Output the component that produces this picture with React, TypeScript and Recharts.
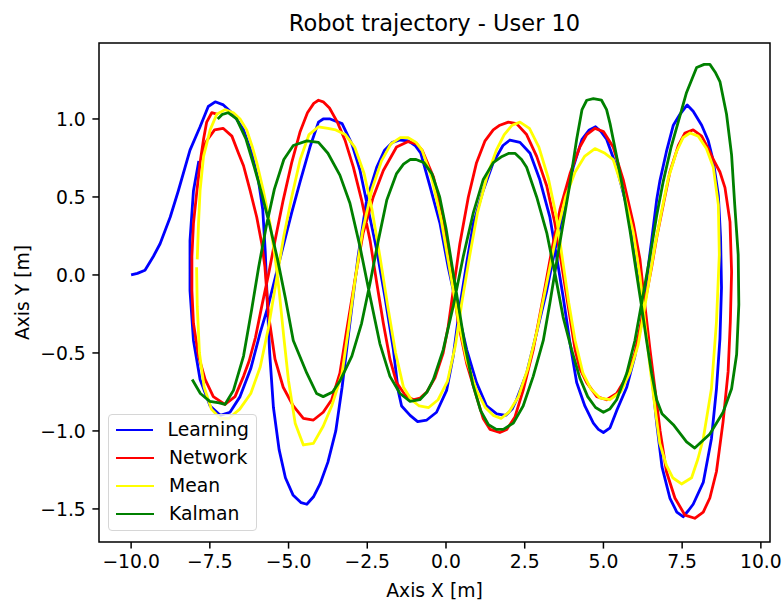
import { ScatterChart, Scatter, XAxis, YAxis, ReferenceArea, Legend } from "recharts";

// Trajectory samples as [x, y] in metres, in the order the robot travelled them
const learningPath: [number, number][] = [
  [-10.0, 0.0], [-9.8, 0.01], [-9.56, 0.03], [-9.29, 0.12], [-9.08, 0.2], [-8.76, 0.37], [-8.5, 0.54],
  [-8.13, 0.8], [-7.81, 0.95], [-7.55, 1.08], [-7.33, 1.11], [-7.07, 1.09], [-6.75, 1.03], [-6.43, 0.93],
  [-6.17, 0.78], [-5.96, 0.61], [-5.82, 0.42], [-5.74, 0.15], [-5.68, -0.15], [-5.6, -0.5], [-5.48, -0.85],
  [-5.3, -1.12], [-5.1, -1.3], [-4.86, -1.41], [-4.6, -1.46], [-4.42, -1.47], [-4.2, -1.42], [-4.0, -1.34],
  [-3.75, -1.2], [-3.5, -1.0], [-3.3, -0.72], [-3.12, -0.42], [-2.95, -0.14], [-2.79, 0.12], [-2.52, 0.48],
  [-2.2, 0.69], [-1.95, 0.8], [-1.7, 0.85], [-1.46, 0.865], [-1.2, 0.86], [-0.98, 0.83], [-0.8, 0.78],
  [-0.51, 0.57], [-0.19, 0.33], [0.07, 0.05], [0.34, -0.2], [0.66, -0.48], [0.97, -0.69], [1.29, -0.84],
  [1.61, -0.89], [1.9, -0.9], [2.1, -0.86], [2.24, -0.8], [2.56, -0.63], [2.88, -0.37], [3.2, -0.1],
  [3.46, 0.16], [3.78, 0.46], [4.04, 0.69], [4.32, 0.87], [4.55, 0.93], [4.75, 0.95], [4.92, 0.92],
  [5.1, 0.87], [5.42, 0.69], [5.74, 0.44], [6.0, 0.16], [6.21, -0.1], [6.37, -0.35], [6.53, -0.63],
  [6.69, -0.95], [6.86, -1.23], [7.11, -1.43], [7.33, -1.52], [7.53, -1.55], [7.7, -1.51], [7.85, -1.47],
  [8.17, -1.33], [8.43, -1.05], [8.59, -0.73], [8.7, -0.41], [8.75, -0.08], [8.72, 0.24], [8.65, 0.51],
  [8.49, 0.73], [8.33, 0.86], [8.12, 0.96], [7.85, 1.05], [7.66, 1.09], [7.43, 1.03], [7.22, 0.96],
  [7.0, 0.79], [6.79, 0.6], [6.69, 0.48], [6.53, 0.22], [6.37, -0.03], [6.21, -0.31], [6.0, -0.52],
  [5.74, -0.72], [5.42, -0.87], [5.21, -0.98], [5.0, -1.01], [4.84, -0.99], [4.68, -0.95], [4.41, -0.84],
  [4.15, -0.69], [3.94, -0.44], [3.72, -0.14], [3.51, 0.12], [3.3, 0.37], [2.98, 0.61], [2.67, 0.78],
  [2.35, 0.85], [2.03, 0.865], [1.81, 0.83], [1.5, 0.72], [1.18, 0.54], [0.87, 0.33], [0.66, 0.08],
  [0.44, -0.2], [0.23, -0.52], [0.02, -0.74], [-0.3, -0.88], [-0.61, -0.93], [-0.9, -0.94], [-1.14, -0.9],
  [-1.41, -0.84], [-1.52, -0.74], [-1.67, -0.48], [-1.94, -0.14], [-2.2, 0.16], [-2.47, 0.42], [-2.73, 0.67],
  [-2.99, 0.84], [-3.3, 0.97], [-3.68, 1.0], [-3.9, 1.0], [-4.05, 0.98], [-4.32, 0.82], [-4.63, 0.6],
  [-4.9, 0.4], [-5.15, 0.2], [-5.4, 0.0], [-5.65, -0.2], [-5.9, -0.37], [-6.2, -0.6], [-6.54, -0.78],
  [-6.86, -0.88], [-7.17, -0.9], [-7.49, -0.84], [-7.81, -0.67], [-8.02, -0.42], [-8.13, -0.1],
  [-8.13, 0.22], [-8.02, 0.54], [-7.85, 0.73],
];

const networkPath: [number, number][] = [
  [-7.81, 0.73], [-7.6, 0.86], [-7.35, 0.93], [-7.08, 0.94], [-6.8, 0.89], [-6.59, 0.78], [-6.43, 0.7],
  [-6.22, 0.54], [-6.01, 0.37], [-5.85, 0.2], [-5.75, 0.05], [-5.64, -0.25], [-5.43, -0.54], [-5.17, -0.72],
  [-4.85, -0.84], [-4.53, -0.92], [-4.21, -0.93], [-3.9, -0.88], [-3.63, -0.8], [-3.37, -0.63], [-3.15, -0.35],
  [-2.89, -0.03], [-2.63, 0.27], [-2.31, 0.5], [-1.99, 0.67], [-1.57, 0.82], [-1.2, 0.855], [-0.93, 0.84],
  [-0.76, 0.8], [-0.4, 0.63], [-0.09, 0.37], [0.18, 0.01], [0.39, -0.31], [0.66, -0.57], [0.97, -0.78],
  [1.18, -0.92], [1.4, -0.99], [1.71, -1.01], [1.93, -0.99], [2.19, -0.91], [2.45, -0.74], [2.77, -0.48],
  [3.09, -0.14], [3.36, 0.16], [3.62, 0.42], [3.94, 0.65], [4.25, 0.82], [4.47, 0.9], [4.73, 0.94],
  [5.0, 0.92], [5.31, 0.82], [5.63, 0.61], [5.95, 0.33], [6.16, 0.1], [6.32, -0.2], [6.48, -0.48],
  [6.63, -0.72], [6.8, -1.0], [7.0, -1.26], [7.27, -1.43], [7.59, -1.54], [7.9, -1.56], [8.17, -1.52],
  [8.38, -1.43], [8.59, -1.26], [8.8, -0.94], [8.96, -0.62], [9.03, -0.3], [9.07, 0.02], [9.02, 0.34],
  [8.86, 0.56], [8.7, 0.66], [8.49, 0.74], [8.33, 0.81], [8.12, 0.89], [7.85, 0.93], [7.59, 0.91],
  [7.38, 0.83], [7.11, 0.66], [6.9, 0.45], [6.7, 0.25], [6.53, 0.05], [6.37, -0.12], [6.21, -0.29],
  [6.0, -0.5], [5.74, -0.65], [5.42, -0.76], [5.1, -0.8], [4.79, -0.78], [4.47, -0.69], [4.25, -0.6],
  [4.1, -0.48], [3.88, -0.2], [3.67, 0.07], [3.46, 0.33], [3.2, 0.57], [2.88, 0.76], [2.56, 0.9],
  [2.24, 0.97], [1.98, 0.98], [1.71, 0.96], [1.5, 0.93], [1.24, 0.86], [0.97, 0.72], [0.71, 0.5],
  [0.44, 0.2], [0.23, -0.1], [0.07, -0.33], [-0.09, -0.5], [-0.35, -0.66], [-0.61, -0.75], [-0.83, -0.79],
  [-1.04, -0.8], [-1.3, -0.77], [-1.57, -0.69], [-1.78, -0.54], [-1.99, -0.31], [-2.2, -0.05], [-2.41, 0.22],
  [-2.68, 0.48], [-2.94, 0.69], [-3.2, 0.86], [-3.45, 0.98], [-3.7, 1.07], [-3.9, 1.11], [-4.05, 1.12],
  [-4.2, 1.1], [-4.4, 1.04], [-4.63, 0.92], [-4.9, 0.72], [-5.17, 0.48], [-5.43, 0.22], [-5.64, 0.0],
  [-5.85, -0.2], [-6.05, -0.4], [-6.25, -0.55], [-6.43, -0.65], [-6.7, -0.78], [-7.02, -0.83],
  [-7.39, -0.78], [-7.65, -0.67], [-7.86, -0.52], [-8.02, -0.31], [-8.07, -0.1], [-8.07, 0.12],
  [-8.02, 0.33], [-7.91, 0.54], [-7.81, 0.72], [-7.7, 0.87], [-7.6, 0.98], [-7.44, 1.04], [-7.25, 1.03],
];

const meanPath: [number, number][] = [
  [-7.9, 0.1], [-7.86, 0.33], [-7.81, 0.54], [-7.7, 0.76], [-7.49, 0.93], [-7.28, 1.03], [-7.02, 1.06],
  [-6.75, 1.04], [-6.54, 1.0], [-6.33, 0.93], [-6.15, 0.82], [-6.01, 0.72], [-5.8, 0.54], [-5.59, 0.33],
  [-5.43, 0.12], [-5.3, -0.1], [-5.15, -0.4], [-5.0, -0.68], [-4.79, -0.95], [-4.53, -1.09], [-4.21, -1.08],
  [-3.9, -0.97], [-3.63, -0.84], [-3.3, -0.63], [-3.1, -0.35], [-2.9, -0.05], [-2.65, 0.28], [-2.35, 0.55],
  [-2.05, 0.73], [-1.75, 0.84], [-1.45, 0.88], [-1.2, 0.88], [-0.95, 0.85], [-0.76, 0.8], [-0.45, 0.62],
  [-0.15, 0.35], [0.15, 0.0], [0.4, -0.3], [0.66, -0.55], [0.97, -0.74], [1.25, -0.85], [1.5, -0.9],
  [1.75, -0.92], [2.0, -0.88], [2.3, -0.78], [2.6, -0.6], [2.9, -0.35], [3.2, -0.05], [3.5, 0.25],
  [3.8, 0.5], [4.1, 0.66], [4.4, 0.76], [4.73, 0.81], [5.05, 0.78], [5.31, 0.74], [5.63, 0.54],
  [5.95, 0.27], [6.16, -0.01], [6.32, -0.31], [6.48, -0.59], [6.63, -0.84], [6.79, -1.08], [7.0, -1.22],
  [7.2, -1.3], [7.48, -1.34], [7.8, -1.3], [8.0, -1.18], [8.17, -1.05], [8.43, -0.73], [8.59, -0.3],
  [8.68, 0.13], [8.65, 0.45], [8.49, 0.69], [8.27, 0.81], [8.01, 0.89], [7.75, 0.91], [7.53, 0.88],
  [7.32, 0.79], [7.06, 0.62], [6.85, 0.41], [6.65, 0.2], [6.48, 0.0], [6.3, -0.22], [6.1, -0.45],
  [5.85, -0.62], [5.55, -0.75], [5.2, -0.8], [4.9, -0.79], [4.6, -0.73], [4.35, -0.63], [4.1, -0.42],
  [3.9, -0.18], [3.7, 0.1], [3.5, 0.38], [3.25, 0.62], [2.95, 0.82], [2.65, 0.94], [2.35, 0.98],
  [2.1, 0.96], [1.85, 0.9], [1.6, 0.8], [1.3, 0.63], [1.0, 0.4], [0.75, 0.12], [0.5, -0.18], [0.3, -0.45],
  [0.05, -0.68], [-0.25, -0.8], [-0.55, -0.85], [-0.85, -0.84], [-1.1, -0.8], [-1.35, -0.72], [-1.6, -0.5],
  [-1.85, -0.2], [-2.1, 0.12], [-2.35, 0.42], [-2.6, 0.65], [-2.9, 0.82], [-3.2, 0.9], [-3.5, 0.93],
  [-3.75, 0.94], [-4.05, 0.95], [-4.35, 0.9], [-4.63, 0.74], [-4.9, 0.5], [-5.15, 0.25], [-5.4, -0.05],
  [-5.65, -0.35], [-5.9, -0.59], [-6.2, -0.76], [-6.55, -0.86], [-6.9, -0.92], [-7.17, -0.92],
  [-7.45, -0.86], [-7.68, -0.72], [-7.83, -0.5], [-7.9, -0.2], [-7.92, 0.05],
];

const kalmanPath: [number, number][] = [
  [-8.06, -0.67], [-7.8, -0.76], [-7.5, -0.81], [-7.2, -0.82], [-7.02, -0.83], [-6.75, -0.74], [-6.43, -0.52],
  [-6.17, -0.22], [-5.95, 0.05], [-5.7, 0.32], [-5.45, 0.55], [-5.15, 0.74], [-4.85, 0.83], [-4.42, 0.86],
  [-4.05, 0.85], [-3.75, 0.78], [-3.37, 0.64], [-3.05, 0.46], [-2.73, 0.18], [-2.41, -0.14], [-2.1, -0.44],
  [-1.78, -0.65], [-1.46, -0.76], [-1.14, -0.81], [-0.83, -0.8], [-0.6, -0.75], [-0.4, -0.67], [-0.09, -0.48],
  [0.23, -0.2], [0.55, 0.12], [0.87, 0.4], [1.18, 0.61], [1.5, 0.72], [1.78, 0.76], [2.0, 0.78], [2.19, 0.78],
  [2.4, 0.74], [2.56, 0.69], [2.88, 0.5], [3.2, 0.27], [3.46, 0.01], [3.72, -0.27], [3.99, -0.48],
  [4.25, -0.66], [4.5, -0.78], [4.75, -0.85], [5.0, -0.88], [5.2, -0.86], [5.42, -0.8], [5.74, -0.63],
  [6.0, -0.42], [6.25, -0.14], [6.48, 0.12], [6.69, 0.38], [6.9, 0.6], [7.15, 0.82], [7.43, 1.02],
  [7.64, 1.17], [7.96, 1.33], [8.2, 1.35], [8.38, 1.35], [8.55, 1.3], [8.7, 1.24], [8.91, 1.03], [9.07, 0.77],
  [9.17, 0.45], [9.28, 0.13], [9.3, -0.19], [9.23, -0.51], [9.07, -0.73], [8.8, -0.88], [8.38, -1.02],
  [7.9, -1.11], [7.64, -1.07], [7.22, -0.96], [6.86, -0.89], [6.69, -0.8], [6.53, -0.63], [6.37, -0.42],
  [6.21, -0.2], [6.05, 0.01], [5.84, 0.29], [5.63, 0.54], [5.42, 0.76], [5.21, 0.97], [5.1, 1.06],
  [4.94, 1.12], [4.68, 1.13], [4.47, 1.12], [4.32, 1.06], [4.15, 0.87], [3.94, 0.59], [3.72, 0.33],
  [3.51, 0.08], [3.3, -0.18], [3.09, -0.42], [2.77, -0.65], [2.45, -0.84], [2.14, -0.95], [1.82, -0.99],
  [1.6, -0.99], [1.35, -0.96], [1.1, -0.87], [0.85, -0.7], [0.6, -0.45], [0.4, -0.2], [0.2, 0.05],
  [0.0, 0.3], [-0.2, 0.5], [-0.45, 0.65], [-0.7, 0.72], [-0.95, 0.74], [-1.14, 0.74], [-1.35, 0.71],
  [-1.57, 0.65], [-1.88, 0.48], [-2.15, 0.22], [-2.41, -0.05], [-2.68, -0.31], [-2.99, -0.52],
  [-3.37, -0.68], [-3.6, -0.75], [-3.9, -0.78], [-4.11, -0.76], [-4.42, -0.63], [-4.85, -0.42],
  [-5.1, -0.15], [-5.35, 0.1], [-5.6, 0.32], [-5.85, 0.52], [-6.1, 0.7], [-6.35, 0.87], [-6.65, 1.0],
  [-6.92, 1.04], [-7.1, 1.03], [-7.25, 1.0],
];

const X_TICKS = [-10, -7.5, -5, -2.5, 0, 2.5, 5, 7.5, 10];
const Y_TICKS = [-1.5, -1, -0.5, 0, 0.5, 1];
const X_DOMAIN: [number, number] = [-11.02, 10.29];
const Y_DOMAIN: [number, number] = [-1.712, 1.487];

const SERIES = [
  { name: "Learning", color: "#0000ff", path: learningPath },
  { name: "Network", color: "#ff0000", path: networkPath },
  { name: "Mean", color: "#ffff00", path: meanPath },
  { name: "Kalman", color: "#008000", path: kalmanPath },
];

const FONT = "'DejaVu Sans', sans-serif";
const FONT_SIZE = 18.75;

// matplotlib-style minus sign on negative tick labels
const fmt = (v: number) => (v < 0 ? "\u2212" : "") + Math.abs(v).toFixed(1);

const toPoints = (path: [number, number][]) => path.map(([x, y]) => ({ x, y }));

// legend keeps the plotting order (Recharts would sort it by name)
function TrajectoryLegend() {
  return (
    <div
      style={{
        boxSizing: "border-box",
        width: 149,
        border: "1px solid #d6d6d6",
        borderRadius: 4,
        background: "rgba(255,255,255,0.8)",
        padding: "1px 7px 2px 7px",
        fontSize: FONT_SIZE,
        fontFamily: FONT,
        color: "#000",
      }}
    >
      {SERIES.map((s) => (
        <div key={s.name} style={{ display: "flex", alignItems: "center", height: 28 }}>
          <span
            style={{
              display: "inline-block",
              width: 38,
              height: 0,
              borderTop: `2.8px solid ${s.color}`,
              marginRight: 15,
            }}
          />
          <span style={{ lineHeight: "22px" }}>{s.name}</span>
        </div>
      ))}
    </div>
  );
}

const XTitle = ({ viewBox }: any) => (
  <text
    x={viewBox.x + viewBox.width / 2}
    y={597}
    textAnchor="middle"
    fontSize={FONT_SIZE}
    fontFamily={FONT}
    fill="#000"
  >
    Axis X [m]
  </text>
);

const YTitle = ({ viewBox }: any) => {
  const cy = viewBox.y + viewBox.height / 2;
  return (
    <text
      x={29}
      y={cy}
      transform={`rotate(-90, 29, ${cy})`}
      textAnchor="middle"
      fontSize={FONT_SIZE}
      fontFamily={FONT}
      fill="#000"
    >
      Axis Y [m]
    </text>
  );
};

const tickStyle = { fontSize: FONT_SIZE, fontFamily: FONT, fill: "#000" };

export default function App() {
  return (
    <div
      style={{
        position: "absolute",
        left: 0,
        top: 0,
        width: 782,
        height: 603,
        background: "#fff",
        fontFamily: FONT,
      }}
    >
      <ScatterChart width={782} height={603} margin={{ top: 43, right: 12, bottom: 0, left: 0 }}>
        <XAxis
          type="number"
          dataKey="x"
          domain={X_DOMAIN}
          allowDataOverflow
          ticks={X_TICKS}
          tickFormatter={fmt}
          interval={0}
          height={61}
          axisLine={false}
          tickLine={{ stroke: "#000", strokeWidth: 1.5 }}
          tickSize={6.6}
          tickMargin={6}
          tick={tickStyle}
          label={<XTitle />}
        />
        <YAxis
          type="number"
          dataKey="y"
          domain={Y_DOMAIN}
          allowDataOverflow
          ticks={Y_TICKS}
          tickFormatter={fmt}
          interval={0}
          width={99}
          axisLine={false}
          tickLine={{ stroke: "#000", strokeWidth: 1.5 }}
          tickSize={6.6}
          tickMargin={6.6}
          tick={tickStyle}
          label={<YTitle />}
        />
        {SERIES.map((s) => (
          <Scatter
            key={s.name}
            name={s.name}
            data={toPoints(s.path)}
            fill={s.color}
            line={{ stroke: s.color, strokeWidth: 2.8, strokeLinejoin: "round" }}
            shape={() => <g />}
            isAnimationActive={false}
          />
        ))}
        <ReferenceArea
          x1={X_DOMAIN[0]}
          x2={X_DOMAIN[1]}
          y1={Y_DOMAIN[0]}
          y2={Y_DOMAIN[1]}
          fill="none"
          stroke="#000"
          strokeWidth={1.5}
          ifOverflow="visible"
        />
        <Legend
          layout="vertical"
          align="center"
          verticalAlign="middle"
          wrapperStyle={{ left: 108, top: 414, width: 149 }}
          content={<TrajectoryLegend />}
        />
      </ScatterChart>
      <div
        style={{
          position: "absolute",
          left: 99,
          top: 9,
          width: 671,
          textAlign: "center",
          fontSize: 22.5,
          lineHeight: "28px",
          color: "#000",
        }}
      >
        Robot trajectory - User 10
      </div>
    </div>
  );
}
